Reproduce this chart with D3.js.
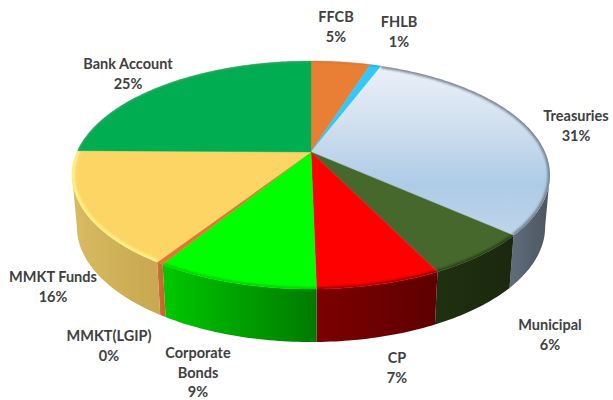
<!DOCTYPE html>
<html><head><meta charset="utf-8">
<script src="https://cdn.jsdelivr.net/npm/d3@7"></script>
<style>html,body{margin:0;background:#fff}svg{display:block}
text{font-family:Lato,sans-serif;font-weight:700;font-size:14.5px;fill:#404040;text-anchor:middle}</style>
</head><body><svg id="c" width="613" height="400"></svg>
<script>
const categories = ["FFCB","FHLB","Treasuries","Municipal","CP","Corporate Bonds","MMKT(LGIP)","MMKT Funds","Bank Account"];
const values = [4.9,0.9,30.7,6.2,7.0,9.1,0.4,16.0,24.8];
const percentLabels = ["5%","1%","31%","6%","7%","9%","0%","16%","25%"];
const topColors = ["#e97f35","#33c8fa","#b5d0e9","#47682c","#ff0000","#00ff00","#e0782f","#fcd565","#00ad50"];
const rimColors = ["#a87a50","#2a90b0","#56616d","#1e2d10","#7a0000","#00c000","#e0782f","#fff38c","#6a9a7a"];
const rimWidths = [2,2,4.5,4,4,4,4,6,2];
const wallLeft = ["#000","#000","#5f6b78","#1f3010","#7c0000","#00c800","#d0712b","#d8bb62","#000"];
const wallRight = ["#000","#000","#4c5661","#1b280e","#5e0000","#007a00","#c4692a","#c8a850","#000"];
const labelLines = [["FFCB"],["FHLB"],["Treasuries"],["Municipal"],["CP"],["Corporate","Bonds"],["MMKT(LGIP)"],["MMKT Funds"],["Bank Account"]];
// layout of the labels: centre x, first baseline
const labelAnchors = [[336,22],[399,27],[576,121],[550,330],[397,363],[198,358],[109,341],[53,282],[128,69]];

const svg = d3.select("#c");
const cx = 311, k = 234, persp = -0.2018, yA = 78.7, yB = 152;
const proj = a => { const v = -Math.cos(a), d = 1 + persp*v;
  return [cx + k*Math.sin(a)/d, (yA*v + yB)/d]; };
const lower = ([x,y]) => [cx + (x-cx)*0.98, y*1.01 + 50.1];
const apex = [cx, yB];
const arcs = d3.pie().sort(null).value(d=>d)(values);
const line = d3.line();
const sample = (a0,a1) => { const n = Math.max(2,Math.ceil((a1-a0)*60));
  return d3.range(n+1).map(i => proj(a0+(a1-a0)*i/n)); };

const defs = svg.append("defs");
defs.append("filter").attr("id","blur").attr("x","-10%").attr("y","-10%").attr("width","120%").attr("height","120%")
  .append("feGaussianBlur").attr("stdDeviation",1.2);
const tg = defs.append("linearGradient").attr("id","treas").attr("gradientUnits","userSpaceOnUse")
  .attr("x1",0).attr("x2",0).attr("y1",65).attr("y2",240);
[[0,"#ecf1f8"],[0.35,"#d0dfef"],[0.68,"#aecbe6"],[1,"#c0d6eb"]].forEach(s=>tg.append("stop").attr("offset",s[0]).attr("stop-color",s[1]));

// walls
const visA0 = Math.acos(persp), visA1 = 2*Math.PI - visA0;
arcs.forEach((d,i)=>{
  const a0 = Math.max(d.startAngle,visA0), a1 = Math.min(d.endAngle,visA1);
  if (a1<=a0) return;
  const top = sample(a0,a1), bot = top.map(lower).reverse();
  const g = defs.append("linearGradient").attr("id","w"+i).attr("gradientUnits","userSpaceOnUse")
    .attr("x1",d3.min(top,p=>p[0])).attr("x2",d3.max(top,p=>p[0])).attr("y1",0).attr("y2",0);
  g.append("stop").attr("offset",0).attr("stop-color",wallLeft[i]);
  g.append("stop").attr("offset",1).attr("stop-color",wallRight[i]);
  svg.append("path").attr("d",line(top.concat(bot))+"Z").attr("fill",`url(#w${i})`);
});

// top face
arcs.forEach((d,i)=>{
  const rim = sample(d.startAngle,d.endAngle);
  const dPath = line([apex].concat(rim))+"Z";
  defs.append("clipPath").attr("id","s"+i).append("path").attr("d",dPath);
  svg.append("path").attr("d",dPath).attr("fill", i===2?"url(#treas)":topColors[i]).attr("stroke", i===2?"none":topColors[i]).attr("stroke-width",0.4);
  svg.append("g").attr("clip-path",`url(#s${i})`).append("path").attr("d",line(rim))
    .attr("fill","none").attr("stroke",rimColors[i]).attr("stroke-width",rimWidths[i])
    .attr("opacity",i===7?0.9:0.7).attr("filter","url(#blur)");
});

// labels
categories.forEach((c,i)=>{
  const [x,y] = labelAnchors[i];
  const t = svg.append("text").attr("x",x).attr("y",y);
  labelLines[i].concat(percentLabels[i]).forEach((s,j)=>t.append("tspan").attr("x",x).attr("dy",j?19.5:0).text(s));
});
</script></body></html>
